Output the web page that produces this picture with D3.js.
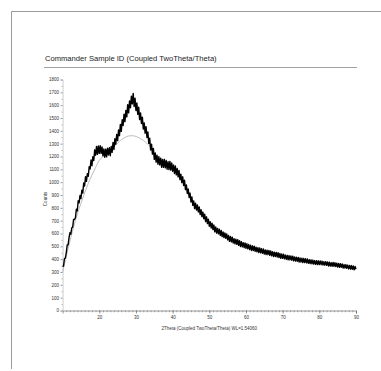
<!DOCTYPE html>
<html>
<head>
<meta charset="utf-8">
<script src="https://cdn.jsdelivr.net/npm/d3@7"></script>
<style>
  html, body { margin: 0; padding: 0; background: #fff; }
  svg { display: block; font-family: "Liberation Sans", Arial, sans-serif; }
</style>
</head>
<body>
<div id="xrdChart"></div>
<script>
// measured scan, 10 - 90 deg 2Theta, step 0.25
var scanStart = 10;
var scanStep = 0.25;
var scanCounts = [
  342, 347, 403, 409, 450, 510, 511, 566, 606, 595, 645, 650, 710, 709, 723, 790,
  775, 855, 838, 897, 872, 937, 915, 993, 970, 1043, 1006, 1066, 1045, 1121, 1102, 1173,
  1128, 1199, 1169, 1252, 1210, 1279, 1217, 1282, 1225, 1284, 1225, 1275, 1205, 1258, 1194, 1257,
  1197, 1265, 1212, 1268, 1206, 1279, 1232, 1310, 1255, 1338, 1296, 1371, 1324, 1407, 1363, 1450,
  1396, 1486, 1442, 1530, 1472, 1559, 1509, 1604, 1540, 1633, 1580, 1670, 1610, 1692, 1590, 1655,
  1558, 1617, 1528, 1584, 1487, 1540, 1457, 1507, 1414, 1462, 1381, 1433, 1348, 1392, 1302, 1343,
  1251, 1296, 1219, 1263, 1178, 1228, 1156, 1210, 1140, 1199, 1134, 1187, 1116, 1177, 1115, 1178,
  1112, 1169, 1101, 1160, 1098, 1162, 1094, 1149, 1085, 1135, 1068, 1126, 1057, 1106, 1041, 1091,
  1020, 1063, 997, 1042, 974, 1015, 942, 979, 912, 948, 881, 915, 846, 885, 819, 854,
  794, 836, 783, 823, 768, 807, 748, 786, 731, 767, 715, 750, 693, 730, 677, 711,
  657, 692, 643, 681, 630, 666, 613, 651, 603, 640, 597, 633, 585, 623, 576, 612,
  568, 605, 562, 597, 550, 584, 539, 577, 535, 572, 526, 560, 519, 556, 515, 552,
  508, 544, 499, 536, 495, 529, 490, 527, 485, 520, 481, 514, 474, 508, 468, 504,
  467, 501, 461, 493, 457, 489, 451, 488, 449, 482, 446, 479, 439, 472, 436, 470,
  435, 468, 430, 464, 426, 459, 421, 455, 420, 453, 417, 451, 412, 444, 407, 441,
  406, 438, 402, 432, 399, 430, 395, 428, 394, 425, 392, 423, 387, 417, 385, 416,
  383, 414, 377, 410, 377, 407, 373, 405, 373, 403, 371, 401, 367, 396, 365, 395,
  364, 393, 361, 389, 360, 388, 357, 387, 358, 386, 357, 385, 354, 381, 353, 381,
  352, 379, 347, 376, 346, 373, 345, 374, 344, 372, 343, 369, 339, 366, 337, 365,
  336, 362, 331, 358, 330, 358, 328, 354, 324, 351, 322, 350, 321, 347, 317, 344,
  322
];

// smooth grey curve
var fitAngles = [10, 11, 12, 13, 14, 15, 16, 17, 18, 19, 20, 21, 22, 23, 24, 25, 26, 27, 28, 29,
  30, 31, 32, 33, 34, 35, 36, 37, 38, 39, 40, 42, 44, 46, 48, 50, 55, 60, 65, 70, 75, 80, 85, 90];
var fitCounts = [300, 420, 540, 650, 750, 835, 915, 990, 1055, 1115, 1170, 1200, 1225, 1245, 1275, 1305, 1330, 1348, 1360, 1362,
  1356, 1343, 1325, 1302, 1272, 1215, 1170, 1145, 1135, 1122, 1105, 1045, 935, 818, 755, 680, 570, 503, 458, 422, 393, 372, 354, 330];

var xTickValues = [20, 30, 40, 50, 60, 70, 80, 90];
var yTickValues = [0, 100, 200, 300, 400, 500, 600, 700, 800, 900, 1000, 1100, 1200, 1300, 1400, 1500, 1600, 1700, 1800];

var chartTitle = "Commander Sample ID (Coupled TwoTheta/Theta)";
var xTitle = "2Theta (Coupled TwoTheta/Theta) WL=1.54060";
var yTitle = "Counts";

var width = 381;
var height = 371;

var svg = d3.select("#xrdChart")
  .append("svg")
  .attr("width", width)
  .attr("height", height);

//------- PAGE FRAME + TITLE -------
svg.append("path")
  .attr("d", "M11.5,369V11.5H381")
  .attr("fill", "none")
  .attr("stroke", "#9a9a9a")
  .attr("stroke-width", 1);

svg.append("text")
  .attr("x", 45)
  .attr("y", 60.5)
  .attr("font-size", 7.6)
  .attr("fill", "#1a1a1a")
  .text(chartTitle);

svg.append("line")
  .attr("x1", 44).attr("x2", 357)
  .attr("y1", 67.5).attr("y2", 67.5)
  .attr("stroke", "#8a8a8a")
  .attr("stroke-width", 0.8);

//------- SCALES -------
var x = d3.scaleLinear().domain([10, 90]).range([62.6, 356]);
var y = d3.scaleLinear().domain([0, 1800]).range([310.5, 79.5]);

var scan = scanCounts.map(function (c, i) {
  return { angle: scanStart + i * scanStep, counts: c };
});
var fit = fitAngles.map(function (a, i) {
  return { angle: a, counts: fitCounts[i] };
});

//------- AXES -------
var xAxis = svg.append("g")
  .attr("transform", "translate(0," + y(0) + ")")
  .call(d3.axisBottom(x).tickValues(xTickValues).tickSize(3).tickPadding(2).tickFormat(d3.format("d")));
xAxis.select(".domain").attr("stroke", "#555").attr("stroke-width", 0.6);
xAxis.selectAll(".tick line").attr("stroke", "#555").attr("stroke-width", 0.6);
xAxis.selectAll("text").attr("font-size", 4.5).attr("fill", "#333");

svg.append("g")
  .attr("transform", "translate(0," + y(0) + ")")
  .call(d3.axisBottom(x).tickValues(d3.range(11, 90, 1)).tickSize(1.8).tickFormat(""))
  .call(function (g) {
    g.select(".domain").remove();
    g.selectAll("line").attr("stroke", "#666").attr("stroke-width", 0.5);
  });

var yAxis = svg.append("g")
  .attr("transform", "translate(" + x(10) + ",0)")
  .call(d3.axisLeft(y).tickValues(yTickValues).tickSize(2).tickPadding(1.5).tickFormat(d3.format("d")));
yAxis.select(".domain").attr("stroke", "#888").attr("stroke-width", 0.4);
yAxis.selectAll(".tick line").attr("stroke", "#555").attr("stroke-width", 0.6);
yAxis.selectAll("text").attr("font-size", 4.5).attr("fill", "#333");

svg.append("g")
  .attr("transform", "translate(" + x(10) + ",0)")
  .call(d3.axisLeft(y).tickValues(d3.range(50, 1800, 100)).tickSize(1.2).tickFormat(""))
  .call(function (g) {
    g.select(".domain").remove();
    g.selectAll("line").attr("stroke", "#777").attr("stroke-width", 0.5);
  });

svg.append("text")
  .attr("transform", "translate(47," + (y(900) + 4) + ") rotate(-90)")
  .attr("text-anchor", "middle")
  .attr("font-size", 4.5)
  .attr("fill", "#333")
  .text(yTitle);

svg.append("text")
  .attr("x", (x(10) + x(90)) / 2)
  .attr("y", 330)
  .attr("text-anchor", "middle")
  .attr("font-size", 4.5)
  .attr("fill", "#333")
  .text(xTitle);

//------- CURVES -------
var line = d3.line()
  .x(function (d) { return x(d.angle); })
  .y(function (d) { return y(d.counts); });

svg.append("path")
  .datum(fit)
  .attr("d", line.curve(d3.curveMonotoneX))
  .attr("fill", "none")
  .attr("stroke", "#b5b5b5")
  .attr("stroke-width", 0.9);

svg.append("path")
  .datum(scan)
  .attr("d", line.curve(d3.curveLinear))
  .attr("fill", "none")
  .attr("stroke", "#000")
  .attr("stroke-width", 1.4)
  .attr("stroke-linejoin", "round");
</script>
</body>
</html>
